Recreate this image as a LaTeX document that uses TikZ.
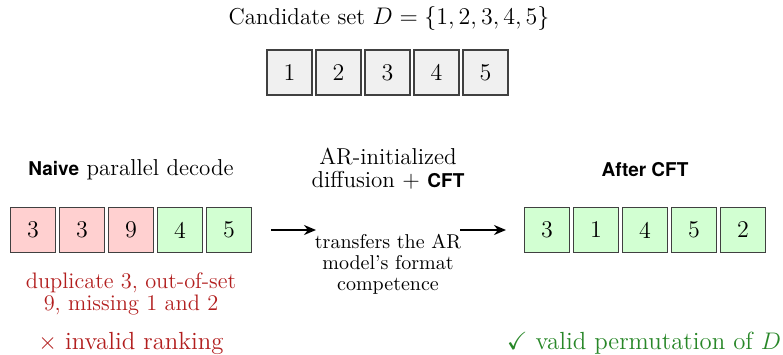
\documentclass[tikz,border=0pt]{standalone}
\usepackage{amssymb}
\usepackage{fontspec}
\newfontfamily\heros{TeX Gyre Heros}
\usetikzlibrary{arrows.meta}
\definecolor{cellred}{RGB}{255,208,208}
\definecolor{cellgreen}{RGB}{210,255,210}
\definecolor{cellgray}{RGB}{240,240,240}
\definecolor{txtred}{RGB}{178,30,30}
\definecolor{txtgreen}{RGB}{40,135,40}
\newcommand{\hb}[1]{{\fontsize{9.5}{11}\heros\bfseries #1}}
\tikzset{
  cell/.style={draw=black!75, line width=0.6pt, minimum width=22.5pt, minimum height=22.5pt, inner sep=0pt, font=\large},
  rc/.style={cell, fill=cellred},
  gc/.style={cell, fill=cellgreen},
  kc/.style={cell, fill=cellgray},
  lbl/.style={font=\fontsize{11.5}{11.5}\selectfont, inner sep=0pt},
  note/.style={font=\fontsize{10}{10.5}\selectfont, align=center, inner sep=0pt},
  errnote/.style={font=\fontsize{11.2}{11}\selectfont, align=center, inner sep=0pt, text=txtred},
  verdict/.style={font=\fontsize{12.4}{15}\selectfont, inner sep=0pt},
  flow/.style={-{Stealth[length=6pt,width=5pt]}, line width=1.1pt},
}
\begin{document}
\begin{tikzpicture}[x=0.5pt, y=-0.5pt]
\useasboundingbox (0,0) rectangle (783,354);
% top
\node[lbl] (title) at (389,18) {Candidate set $D=\{1,2,3,4,5\}$};
\node[kc] (t1) at (289.5,72.5) {1};
\node[kc] (t2) at (338.5,72.5) {2};
\node[kc] (t3) at (387.5,72.5) {3};
\node[kc] (t4) at (436.5,72.5) {4};
\node[kc] (t5) at (485.5,72.5) {5};
% left
\node[lbl] (lt) at (131,170) {\hb{Naive} parallel decode};
\node[rc] (l1) at (33,230) {3};
\node[rc] (l2) at (82,230) {3};
\node[rc] (l3) at (131,230) {9};
\node[gc] (l4) at (180,230) {4};
\node[gc] (l5) at (229,230) {5};
\node[errnote] (lerr) at (131,294) {duplicate 3, out-of-set\\9, missing 1 and 2};
\node[verdict, text=txtred] (lbad) at (131,343) {$\times$ invalid ranking};
% middle
\node[lbl, align=center] (mt) at (388,169) {AR-initialized\\diffusion + \hb{CFT}};
\node[note] (mn) at (388,264) {transfers the AR\\model's format\\competence};
\coordinate (a1s) at (271,230);
\coordinate (a1e) at (316,230);
\coordinate (a2s) at (460,230);
\coordinate (a2e) at (506,230);
\draw[flow] (a1s) -- (a1e);
\draw[flow] (a2s) -- (a2e);
% right
\node[lbl] (rt) at (645,170) {\hb{After CFT}};
\node[gc] (r1) at (547,230) {3};
\node[gc] (r2) at (596,230) {1};
\node[gc] (r3) at (645,230) {4};
\node[gc] (r4) at (694,230) {5};
\node[gc] (r5) at (743,230) {2};
\node[verdict, text=txtgreen] (rgood) at (644,343) {$\checkmark$ valid permutation of $D$};
\end{tikzpicture}
\end{document}
